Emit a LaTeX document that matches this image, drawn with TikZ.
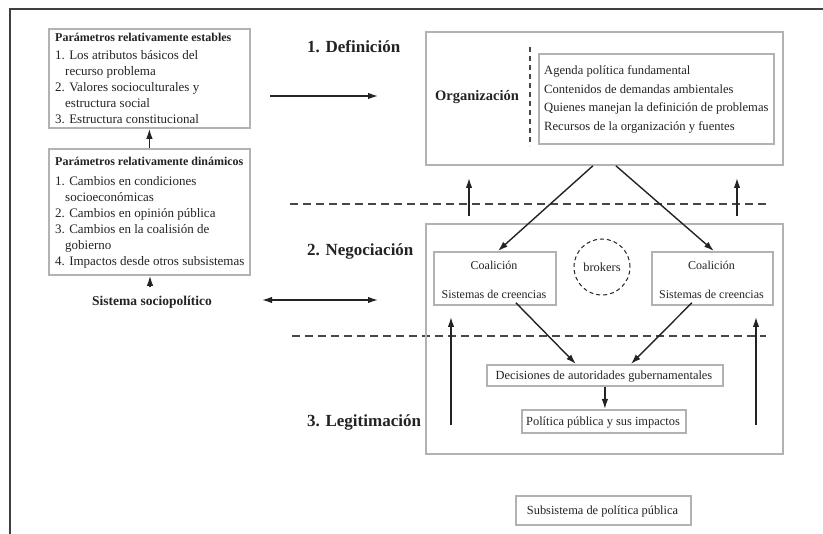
\documentclass[tikz,border=0pt]{standalone}
\usepackage{fontspec}
\setmainfont{Liberation Serif}
\usetikzlibrary{arrows.meta}
\definecolor{boxgray}{RGB}{178,178,182}
\definecolor{ink}{RGB}{35,35,35}
\begin{document}
\begin{tikzpicture}[x=1pt,y=-1pt,
  gbox/.style={draw=boxgray, line width=1.8pt, inner sep=0pt, anchor=north west},
  arr/.style={-{Latex[length=10pt,width=6.5pt]}, line width=1.4pt, draw=ink},
  darr/.style={{Latex[length=10pt,width=6.5pt]}-{Latex[length=10pt,width=6.5pt]}, line width=1.4pt, draw=ink},
  dl/.style={dash pattern=on 8pt off 5pt, line width=1.1pt, draw=black!72},
  body/.style={font=\fontsize{12.4}{16}\selectfont, text=ink, inner sep=0pt},
  stage/.style={font=\fontsize{17}{20}\selectfont\bfseries, text=ink, inner sep=0pt, anchor=west}
]
\useasboundingbox (0,0) rectangle (823,534);
\draw[line width=1.5pt, black!75] (10,534) -- (10,9) -- (823,9);

% left boxes
\node[gbox, minimum width=201pt, minimum height=99pt] (est) at (48,28) {};
\node[body, align=left, anchor=north west, font=\fontsize{13}{15.9}\selectfont] (estT) at (55,32.5)
 {{\fontsize{12}{14}\selectfont\bfseries Parámetros relativamente estables}\\[3pt]
  1. Los atributos básicos del\\
  \hspace*{10pt}recurso problema\\
  2. Valores socioculturales y\\
  \hspace*{10pt}estructura social\\
  3. Estructura constitucional};
\node[gbox, minimum width=201pt, minimum height=126pt] (dyn) at (48,148) {};
\node[body, align=left, anchor=north west, font=\fontsize{13}{16.1}\selectfont] (dynT) at (55,156.5)
 {{\fontsize{12}{14}\selectfont\bfseries Parámetros relativamente dinámicos}\\[4pt]
  1. Cambios en condiciones\\
  \hspace*{10pt}socioeconómicas\\
  2. Cambios en opinión pública\\
  3. Cambios en la coalisión de\\
  \hspace*{10pt}gobierno\\
  4. Impactos desde otros subsistemas};
\node[body, font=\fontsize{13.5}{15}\selectfont\bfseries] (soc) at (152,302) {Sistema sociopolítico};
\coordinate (socTop) at (150,287);
\draw[arr] (dyn.north -| est.south) -- (est.south);
\draw[arr] (socTop) -- (socTop |- dyn.south);

% stage labels
\node[stage] (s1) at (307,47) {1. Definición};
\node[stage] (s2) at (307,251) {2. Negociación};
\node[stage] (s3) at (307,422) {3. Legitimación};

% horizontal arrows
\coordinate (h1a) at (270,96); \coordinate (h1b) at (378,96);
\draw[arr] (h1a) -- (h1b);
\coordinate (h2a) at (262,300); \coordinate (h2b) at (378,300);
\draw[darr] (h2a) -- (h2b);

% organisation box
\node[gbox, minimum width=357pt, minimum height=133pt] (org) at (425,31) {};
\node[body, font=\fontsize{14.5}{16}\selectfont\bfseries] (orgL) at (477,97) {Organización};
\coordinate (dv1) at (530,47); \coordinate (dv2) at (530,146);
\draw[dl, dash pattern=on 5pt off 4pt] (dv1) -- (dv2);
\node[gbox, minimum width=235pt, minimum height=90pt] (orgIn) at (538,53) {};
\node[body, align=left, anchor=north west, font=\fontsize{12.6}{18.7}\selectfont] (orgT) at (544,65.5)
 {Agenda política fundamental\\
  Contenidos de demandas ambientales\\
  Quienes manejan la definición de problemas\\
  Recursos de la organización y fuentes};

% dashed separators
\coordinate (d1a) at (290,204); \coordinate (d1b) at (766,204);
\draw[dl] (d1a) -- (d1b);
\coordinate (d2a) at (292,336); \coordinate (d2b) at (766,336);
\draw[dl] (d2a) -- (d2b);

% negotiation box
\node[gbox, minimum width=357pt, minimum height=230pt] (neg) at (425,223) {};
\node[gbox, minimum width=122pt, minimum height=53pt] (coalL) at (433,251) {};
\node[body, font=\fontsize{12}{14}\selectfont] (coalLa) at (494,265) {Coalición};
\node[body, font=\fontsize{12}{14}\selectfont] (coalLb) at (494,294.5) {Sistemas de creencias};
\node[gbox, minimum width=121pt, minimum height=53pt] (coalR) at (651,251) {};
\node[body, font=\fontsize{12}{14}\selectfont] (coalRa) at (711.5,265) {Coalición};
\node[body, font=\fontsize{12}{14}\selectfont] (coalRb) at (711.5,294.5) {Sistemas de creencias};
\node[circle, draw=ink, dash pattern=on 4pt off 3pt, line width=1pt, minimum size=56pt, inner sep=0pt, font=\fontsize{12.4}{14}\selectfont, text=ink] (brk) at (602,267) {brokers};

\node[gbox, minimum width=236pt, minimum height=21pt] (dec) at (486,364) {};
\node[body] (decT) at (604,376.5) {Decisiones de autoridades gubernamentales};
\node[gbox, minimum width=164pt, minimum height=23pt] (pol) at (521,409) {};
\node[body] (polT) at (603,422.5) {Política pública y sus impactos};

\node[gbox, minimum width=175pt, minimum height=29pt] (sub) at (515,495) {};
\node[body] (subT) at (602.5,512) {Subsistema de política pública};

% connectors
\draw[arr] ([xshift=-11.5pt]org.south) -- ([xshift=3pt]coalL.north);
\draw[arr] ([xshift=11.5pt]org.south) -- ([xshift=1.5pt]coalR.north);
\coordinate (u1a) at (469,216); \coordinate (u1b) at (469,178);
\draw[arr] (u1a) -- (u1b);
\coordinate (u2a) at (737,216); \coordinate (u2b) at (737,178);
\draw[arr] (u2a) -- (u2b);
\coordinate (u3a) at (451,425); \coordinate (u3b) at (451,317);
\draw[arr] (u3a) -- (u3b);
\coordinate (u4a) at (756,425); \coordinate (u4b) at (756,317);
\draw[arr] (u4a) -- (u4b);
\draw[arr] ([xshift=21pt,yshift=3pt]coalL.south) -- ([xshift=-29pt]dec.north);
\draw[arr] ([xshift=-20.5pt,yshift=3pt]coalR.south) -- ([xshift=26pt]dec.north);
\draw[arr] (dec.south) -- (dec.south |- pol.north);
\end{tikzpicture}
\end{document}
